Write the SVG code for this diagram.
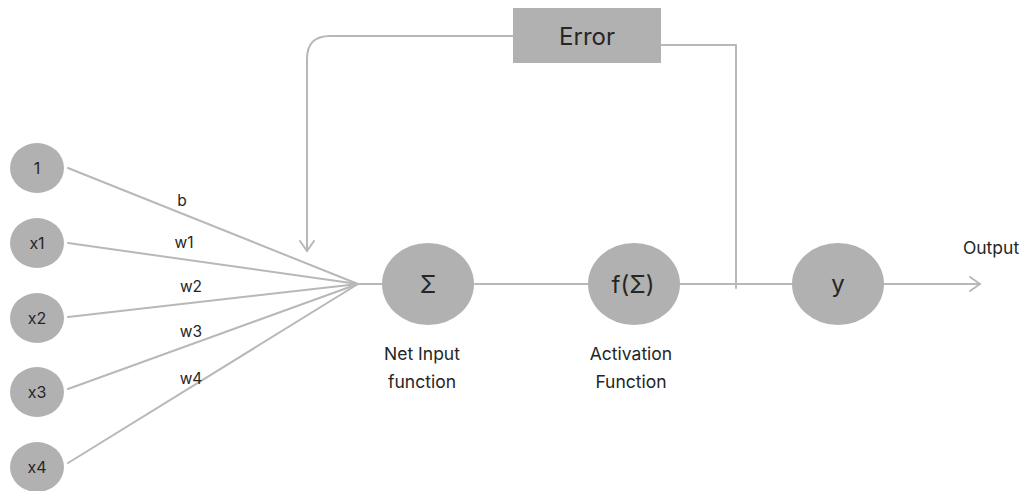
<svg xmlns="http://www.w3.org/2000/svg" width="1023" height="491" viewBox="0 0 1023 491">
  <style>
    .node { fill: #b1b1b1; }
    .edge { fill: none; stroke: #b8b8b8; stroke-width: 2; stroke-linecap: round; stroke-linejoin: round; }
    .lbl { font-family: Inter, "Liberation Sans", sans-serif; fill: #262626; text-anchor: middle; }
    .in { font-size: 16px; }
    .w { font-size: 15.5px; }
    .big { font-size: 24px; }
    .cap { font-size: 17.5px; }
  </style>
  <defs>
    <marker id="open" viewBox="0 0 12 16" markerWidth="12" markerHeight="16" refX="11" refY="8" orient="auto" markerUnits="userSpaceOnUse">
      <path d="M1,1 L11,8 L1,15" fill="none" stroke="#b8b8b8" stroke-width="2" stroke-linecap="round" stroke-linejoin="round"/>
    </marker>
  </defs>
  <rect width="1023" height="491" fill="#ffffff"/>

  <!-- connectors -->
  <g id="connectors">
    <line class="edge" x1="68" y1="168" x2="358" y2="284"/>
    <line class="edge" x1="68" y1="243" x2="358" y2="284"/>
    <line class="edge" x1="68" y1="317" x2="358" y2="284"/>
    <line class="edge" x1="68" y1="389" x2="358" y2="284"/>
    <line class="edge" x1="68" y1="463" x2="358" y2="284"/>
    <line class="edge" x1="352" y1="284" x2="382" y2="284"/>
    <line class="edge" x1="475" y1="284" x2="588" y2="284"/>
    <line class="edge" x1="680" y1="284" x2="793" y2="284"/>
    <line class="edge" x1="884" y1="284" x2="980" y2="284" marker-end="url(#open)"/>
    <!-- feedback from output back to the summation -->
    <path class="edge" d="M661,45 H736 V288"/>
    <path class="edge" d="M513,36 H330 Q307,36 307,59 V251" marker-end="url(#open)"/>
  </g>

  <!-- inputs -->
  <g id="input-1"><ellipse class="node" cx="37" cy="168" rx="27" ry="25"/><text class="lbl in" x="37" y="174">1</text></g>
  <g id="input-x1"><ellipse class="node" cx="37" cy="243" rx="27" ry="25"/><text class="lbl in" x="37" y="249">x1</text></g>
  <g id="input-x2"><ellipse class="node" cx="37" cy="318" rx="27" ry="25"/><text class="lbl in" x="37" y="324">x2</text></g>
  <g id="input-x3"><ellipse class="node" cx="37" cy="392" rx="27" ry="25"/><text class="lbl in" x="37" y="398">x3</text></g>
  <g id="input-x4"><ellipse class="node" cx="37" cy="467" rx="27" ry="25"/><text class="lbl in" x="37" y="473">x4</text></g>

  <!-- weight labels -->
  <g id="weights">
    <text class="lbl w" x="182" y="206">b</text>
    <text class="lbl w" x="184" y="248">w1</text>
    <text class="lbl w" x="191" y="292">w2</text>
    <text class="lbl w" x="191" y="337">w3</text>
    <text class="lbl w" x="191" y="384">w4</text>
  </g>

  <!-- net input -->
  <g id="sum">
    <ellipse class="node" cx="428" cy="284" rx="46" ry="41"/>
    <text class="lbl big" x="428" y="293">Σ</text>
    <text class="lbl cap" x="422" y="360">Net Input</text>
    <text class="lbl cap" x="422" y="388">function</text>
  </g>

  <!-- activation -->
  <g id="activation">
    <ellipse class="node" cx="634" cy="284" rx="46" ry="41"/>
    <text class="lbl big" x="633" y="293">f(Σ)</text>
    <text class="lbl cap" x="631" y="360">Activation</text>
    <text class="lbl cap" x="631" y="388">Function</text>
  </g>

  <!-- output -->
  <g id="y">
    <ellipse class="node" cx="838" cy="284" rx="46" ry="41"/>
    <text class="lbl big" x="838" y="292">y</text>
  </g>
  <g id="output-label">
    <text class="lbl cap" x="991" y="254">Output</text>
  </g>

  <!-- error -->
  <g id="error">
    <rect x="513" y="8" width="148" height="55" fill="#b1b1b1"/>
    <text class="lbl" x="587" y="45" font-size="24">Error</text>
  </g>
</svg>
